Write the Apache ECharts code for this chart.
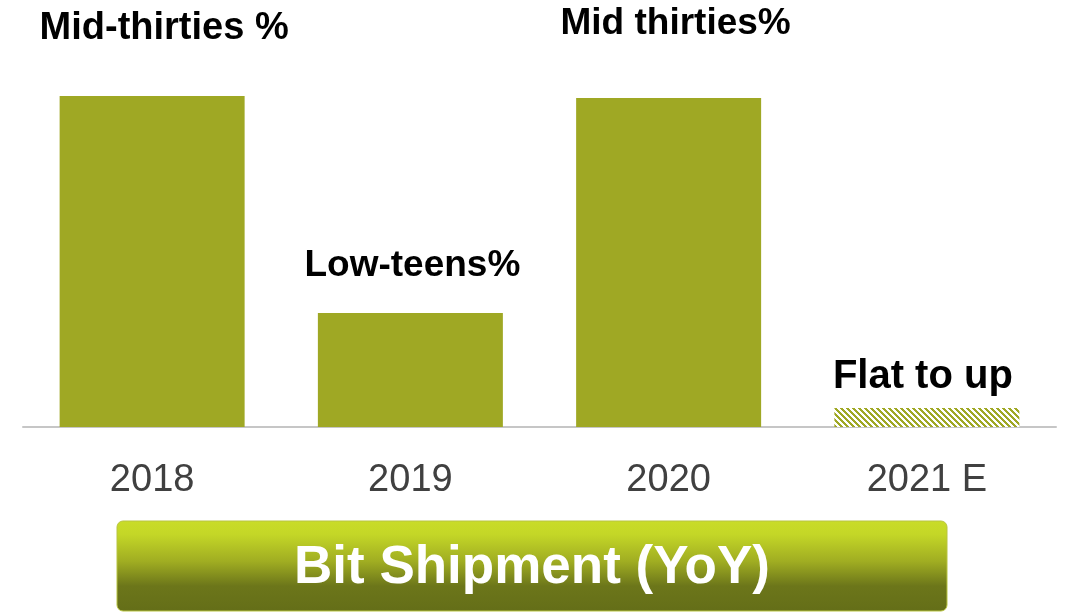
<!DOCTYPE html>
<html>
<head>
<meta charset="utf-8">
<script src="https://cdn.jsdelivr.net/npm/echarts@6/dist/echarts.min.js"></script>
<style>
  html, body { margin: 0; padding: 0; background: #fff; }
  #chart { width: 1069px; height: 613px; }
</style>
</head>
<body>
<div id="chart"></div>
<script>
// data (YoY bit shipment growth, approx %)
var years = ['2018', '2019', '2020', '2021 E']
var growth = [35, 12.05, 34.8, 2]
var growthText = ['Mid-thirties %', 'Low-teens%', 'Mid thirties%', 'Flat to up']
var isEstimate = [false, false, false, true]
var bannerTitle = 'Bit Shipment (YoY)'

// label placement tweaks per bar (style, not data)
var labelDistance = [48, 29, 56, 11]
var labelShiftX = [12, 2, 7, -4]
var labelSize = [38, 37, 37, 40]

var FONT = 'Arial, "Liberation Sans", sans-serif'
var OLIVE = '#9fa824'

// hatch pattern for the estimate bar
function makeHatch() {
  var c = document.createElement('canvas')
  c.width = 6
  c.height = 6
  var ctx = c.getContext('2d')
  ctx.fillStyle = '#ffffff'
  ctx.fillRect(0, 0, 6, 6)
  ctx.fillStyle = OLIVE
  for (var x = 0; x < 6; x++) {
    for (var y = 0; y < 6; y++) {
      if ((((x - y) % 6) + 6) % 6 < 3) ctx.fillRect(x, y, 1, 1)
    }
  }
  return c
}
var hatch = makeHatch()

var chart = echarts.init(document.getElementById('chart'))

var barData = growth.map(function (v, i) {
  return {
    value: v,
    itemStyle: {
      color: isEstimate[i] ? { image: hatch, repeat: 'repeat' } : OLIVE
    },
    label: {
      distance: labelDistance[i],
      offset: [labelShiftX[i], 0],
      fontSize: labelSize[i],
      formatter: growthText[i]
    }
  }
})

chart.setOption({
  animation: false,
  grid: { left: 23, right: 13, top: 96, bottom: 186 },
  xAxis: {
    type: 'category',
    data: years,
    axisLine: { lineStyle: { color: '#c6c6c6', width: 2 } },
    axisTick: { show: false },
    axisLabel: {
      margin: 35,
      fontSize: 38,
      color: '#404040',
      fontFamily: FONT
    }
  },
  yAxis: {
    type: 'value',
    min: 0,
    max: 35,
    show: false,
    splitLine: { show: false }
  },
  series: [
    {
      type: 'bar',
      barWidth: 185,
      data: barData,
      z: 1,
      label: {
        show: true,
        position: 'top',
        fontSize: 38,
        fontWeight: 'bold',
        color: '#000',
        fontFamily: FONT
      }
    }
  ],
  graphic: [
    {
      type: 'rect',
      shape: { x: 117, y: 521, width: 830, height: 90, r: 6 },
      style: {
        fill: new echarts.graphic.LinearGradient(0, 0, 0, 1, [
          { offset: 0, color: '#c9dc28' },
          { offset: 0.15, color: '#c4d727' },
          { offset: 0.45, color: '#a0ad22' },
          { offset: 0.72, color: '#6c761a' },
          { offset: 1, color: '#646e18' }
        ]),
        stroke: '#b8c440',
        lineWidth: 1
      }
    },
    {
      type: 'text',
      x: 532,
      y: 568,
      style: {
        text: bannerTitle,
        fill: '#fff',
        font: 'bold 53px ' + FONT,
        textAlign: 'center',
        textVerticalAlign: 'middle'
      }
    }
  ]
})
</script>
</body>
</html>
